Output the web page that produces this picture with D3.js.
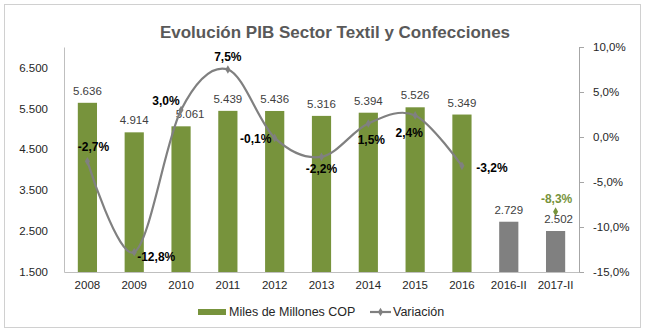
<!DOCTYPE html>
<html>
<head>
<meta charset="utf-8">
<script src="https://cdn.jsdelivr.net/npm/d3@7"></script>
<style>
  body { margin: 0; background: #fff; }
  text { font-family: "Liberation Sans", Arial, sans-serif; }
</style>
</head>
<body>
<svg id="chart" width="647" height="335"></svg>
<script>
// categories and values
const years = ["2008", "2009", "2010", "2011", "2012", "2013", "2014", "2015", "2016", "2016-II", "2017-II"]
const pib = [5636, 4914, 5061, 5439, 5436, 5316, 5394, 5526, 5349, 2729, 2502]
const variacion = [-2.7, -12.8, 3.0, 7.5, -0.1, -2.2, 1.5, 2.4, -3.2]
const variacionSemestre = [-8.3]
const leftTicks = [1500, 2500, 3500, 4500, 5500, 6500]
const rightTicks = [-15, -10, -5, 0, 5, 10]

const green = "#77933C"
const grey = "#808080"
const fmtNum = d3.format(",")
const fmtMiles = d => fmtNum(d).replace(/,/g, ".")
const fmtPct = d => d3.format(".1f")(d).replace(".", ",").replace("\u2212", "-") + "%"

const svg = d3.select("#chart")
const m = {left: 64, right: 579, top: 47, bottom: 272}

// outer frame
svg.append("rect")
  .attr("x", 4.5).attr("y", 4.5).attr("width", 636).attr("height", 323)
  .attr("fill", "#fff").attr("stroke", "#d0d0d0")

svg.append("text")
  .attr("x", 335).attr("y", 38)
  .attr("text-anchor", "middle")
  .attr("font-size", 17).attr("font-weight", "bold").attr("fill", "#595959")
  .text("Evolución PIB Sector Textil y Confecciones")

const x = d3.scaleBand().domain(years).range([m.left, m.right]).paddingInner(0.59).paddingOuter(0.295)
const yL = d3.scaleLinear().domain([1500, 7000]).range([m.bottom, m.top])
const yR = d3.scaleLinear().domain([-15, 10]).range([m.bottom, m.top])
const cx = d => x(d) + x.bandwidth() / 2

// left axis
const gl = svg.append("g").attr("transform", `translate(${m.left},0)`)
  .call(d3.axisLeft(yL).tickValues(leftTicks).tickFormat(fmtMiles).tickSize(0).tickPadding(16))
gl.select(".domain").attr("stroke", "#bfbfbf")
gl.selectAll("text").attr("font-size", 11.5).attr("fill", "#262626").attr("font-family", "Liberation Sans, Arial")

// right axis
const gr = svg.append("g").attr("transform", `translate(${m.right},0)`)
  .call(d3.axisRight(yR).tickValues(rightTicks).tickFormat(fmtPct).tickSizeOuter(0).tickSize(5).tickPadding(9))
gr.select(".domain").attr("stroke", "#a6a6a6")
gr.selectAll("line").attr("stroke", "#a6a6a6")
gr.selectAll("text").attr("font-size", 11.5).attr("fill", "#262626").attr("font-family", "Liberation Sans, Arial")

// bottom axis
const gb = svg.append("g").attr("transform", `translate(0,${m.bottom})`)
  .call(d3.axisBottom(x).tickSize(0).tickPadding(9).tickSizeOuter(0))
gb.select(".domain").attr("stroke", "#bfbfbf")
gb.selectAll("text").attr("font-size", 11.5).attr("fill", "#262626").attr("font-family", "Liberation Sans, Arial")

// bars
svg.selectAll("rect.bar").data(pib).enter().append("rect")
  .attr("class", "bar")
  .attr("x", (d, i) => x(years[i]))
  .attr("width", x.bandwidth())
  .attr("y", d => yL(d))
  .attr("height", d => m.bottom - yL(d))
  .attr("fill", (d, i) => i < 9 ? green : grey)

// bar labels (a few nudged sideways like the original)
const barDx = [0, 0, 9, 0, 0, 0, 0, 0, 0, 0, 3]
svg.selectAll("text.bl").data(pib).enter().append("text")
  .attr("class", "bl")
  .attr("x", (d, i) => cx(years[i]) + barDx[i])
  .attr("y", d => yL(d) - 8)
  .attr("text-anchor", "middle")
  .attr("font-size", 11.5).attr("fill", "#404040")
  .text(fmtMiles)

// variation line
const pts = variacion.map((v, i) => [cx(years[i]), yR(v)])
svg.append("path")
  .attr("d", d3.line().curve(d3.curveCardinal.tension(0))(pts))
  .attr("fill", "none").attr("stroke", grey).attr("stroke-width", 2.2)

const diamond = d3.symbol().type(d3.symbolDiamond).size(22)
svg.selectAll("path.mk").data(pts).enter().append("path")
  .attr("class", "mk")
  .attr("transform", d => `translate(${d[0]},${d[1]})`)
  .attr("d", diamond).attr("fill", grey)

// variation labels, offsets relative to the point
const labOff = [[6, -15], [22, 5], [-15, -9], [0, -13], [-19, 1], [0, 12], [3, 16], [-6, 17], [30, 2]]
svg.selectAll("text.vl").data(variacion).enter().append("text")
  .attr("class", "vl")
  .attr("x", (d, i) => pts[i][0] + labOff[i][0])
  .attr("y", (d, i) => pts[i][1] + labOff[i][1])
  .attr("dy", "0.35em")
  .attr("text-anchor", "middle")
  .attr("font-size", 12).attr("font-weight", "bold").attr("fill", "#000")
  .text(fmtPct)

// 2017-II variation, separate green point
const p17 = [cx("2017-II"), yR(variacionSemestre[0])]
svg.append("path")
  .attr("transform", `translate(${p17[0]},${p17[1]})`)
  .attr("d", diamond).attr("fill", green)
svg.append("text")
  .attr("x", p17[0] + 1).attr("y", p17[1] - 13)
  .attr("dy", "0.35em")
  .attr("text-anchor", "middle")
  .attr("font-size", 12).attr("font-weight", "bold").attr("fill", green)
  .text(fmtPct(variacionSemestre[0]))

// legend
const lg = svg.append("g")
lg.append("rect").attr("x", 198).attr("y", 309).attr("width", 28).attr("height", 6).attr("fill", green)
lg.append("text").attr("x", 229).attr("y", 312).attr("dy", "0.35em")
  .attr("font-size", 12.5).attr("fill", "#262626").text("Miles de Millones COP")
lg.append("line").attr("x1", 370).attr("x2", 391).attr("y1", 312).attr("y2", 312)
  .attr("stroke", grey).attr("stroke-width", 2.2)
lg.append("path").attr("transform", "translate(380.5,312)").attr("d", diamond).attr("fill", grey)
lg.append("text").attr("x", 393).attr("y", 312).attr("dy", "0.35em")
  .attr("font-size", 12.5).attr("fill", "#262626").text("Variación")
</script>
</body>
</html>
